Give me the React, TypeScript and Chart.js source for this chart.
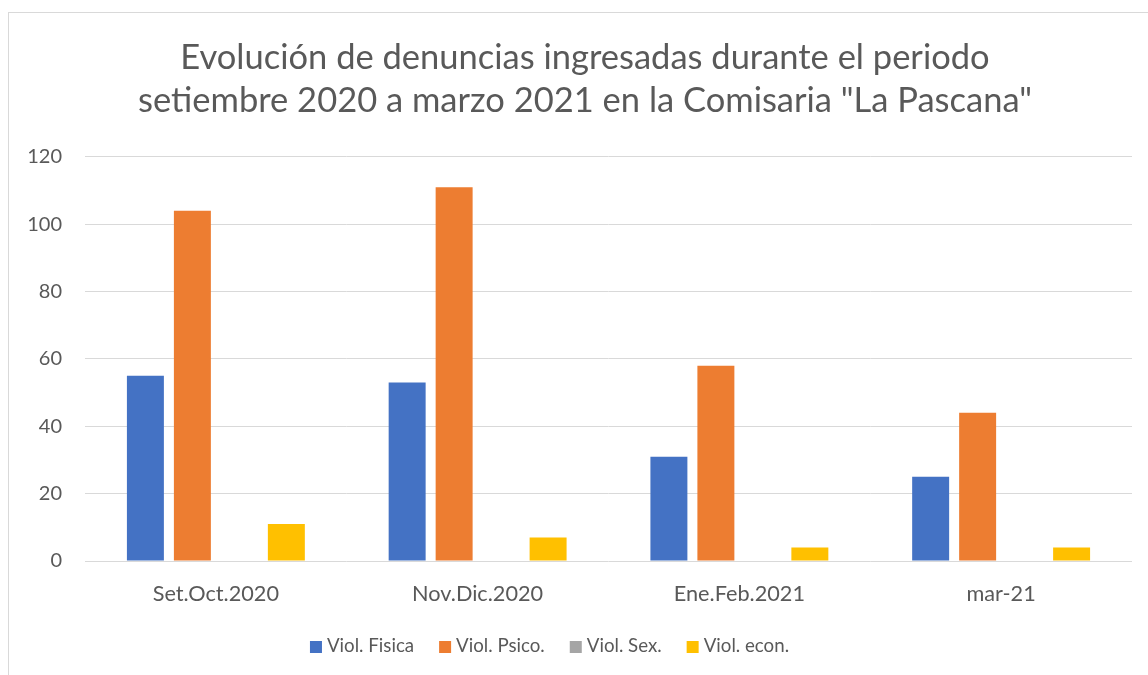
import React, { useEffect, useRef } from "react";
import { Chart, registerables } from "chart.js";

Chart.register(...registerables);

const categories = ["Set.Oct.2020", "Nov.Dic.2020", "Ene.Feb.2021", "mar-21"];
const violFisica = [55, 53, 31, 25];
const violPsico = [104, 111, 58, 44];
const violSex = [0, 0, 0, 0];
const violEcon = [11, 7, 4, 4];
const titleLines = [
  "Evolución de denuncias ingresadas durante el periodo",
  'setiembre 2020 a marzo 2021 en la Comisaria "La Pascana"',
];

const FONT = "Lato";
const TEXT = "#595959";

const titleCenterPlugin = {
  id: "titleCenter",
  afterLayout(chart: any) {
    const t = chart.titleBlock;
    if (t) {
      t.left = 0;
      t.right = chart.width;
    }
  },
};

const legendPlugin = {
  id: "customLegend",
  afterDraw(chart: any) {
    const ctx = chart.ctx;
    ctx.save();
    ctx.font = `18.7px ${FONT}`;
    ctx.textBaseline = "middle";
    ctx.textAlign = "left";
    const box = 12;
    const gapBoxText = 5;
    const gapItems = 25;
    const items = chart.data.datasets.map((d: any) => ({
      label: d.label,
      color: d.backgroundColor,
      w: ctx.measureText(d.label).width,
    }));
    let total = 0;
    items.forEach((it: any, i: number) => {
      total += box + gapBoxText + it.w + (i < items.length - 1 ? gapItems : 0);
    });
    const cx = 541.5;
    const cy = 634;
    let x = cx - total / 2;
    items.forEach((it: any) => {
      ctx.fillStyle = it.color;
      ctx.fillRect(x, cy - 5, box, box);
      x += box + gapBoxText;
      ctx.fillStyle = TEXT;
      ctx.fillText(it.label, x, cy);
      x += it.w + gapItems;
    });
    ctx.restore();
  },
};

export default function App() {
  const ref = useRef<HTMLCanvasElement>(null);
  useEffect(() => {
    const canvas = ref.current;
    if (!canvas) return;
    const chart = new Chart(canvas, {
      type: "bar",
      data: {
        labels: categories,
        datasets: [
          { label: "Viol. Fisica", data: violFisica, backgroundColor: "#4472C4" },
          { label: "Viol. Psico.", data: violPsico, backgroundColor: "#ED7D31" },
          { label: "Viol. Sex.", data: violSex, backgroundColor: "#A5A5A5" },
          { label: "Viol. econ.", data: violEcon, backgroundColor: "#FFC000" },
        ],
      },
      options: {
        responsive: false,
        animation: false,
        devicePixelRatio: 1,
        layout: { padding: { left: 0, right: 30, top: 0, bottom: 0 } },
        datasets: {
          bar: { categoryPercentage: 0.718, barPercentage: 0.787 },
        },
        plugins: {
          legend: { display: false },
          tooltip: { enabled: false },
          title: {
            display: true,
            text: titleLines,
            color: TEXT,
            font: { family: FONT, size: 34.5, weight: "normal", lineHeight: 1.246 },
            padding: { top: 24, bottom: 35 },
          },
        },
        scales: {
          x: {
            grid: { display: false, drawTicks: false },
            border: { display: false },
            ticks: { color: TEXT, font: { family: FONT, size: 21.7 }, padding: 20 },
            afterFit(scale: any) {
              scale.height = 114;
            },
          },
          y: {
            min: 0,
            max: 120,
            ticks: { stepSize: 20, color: TEXT, font: { family: FONT, size: 20 }, padding: 23 },
            grid: { color: "#d9d9d9", lineWidth: 1, drawTicks: false },
            border: { display: false },
            afterFit(scale: any) {
              scale.width = 77;
            },
          },
        },
      },
      plugins: [titleCenterPlugin, legendPlugin],
    });
    return () => chart.destroy();
  }, []);

  return (
    <div style={{ position: "fixed", left: 0, top: 0, width: 1148, height: 675, overflow: "hidden", background: "#fff" }}>
      <div
        style={{
          position: "absolute",
          left: 8,
          top: 12,
          width: 1200,
          height: 700,
          borderLeft: "1px solid #d9d9d9",
          borderTop: "1px solid #d9d9d9",
        }}
      />
      <canvas ref={ref} width={1154} height={663} style={{ position: "absolute", left: 8, top: 12, width: 1154, height: 663 }} />
    </div>
  );
}
